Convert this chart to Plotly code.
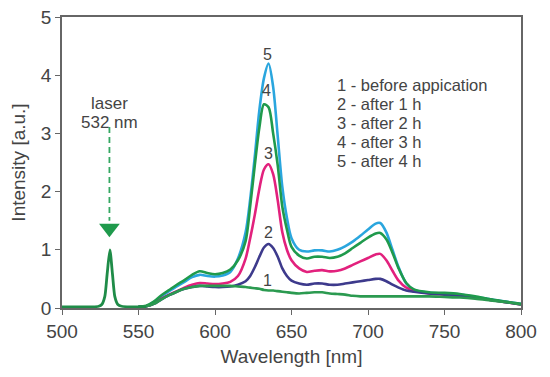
import plotly.graph_objects as go

# ---- data ----
laser_wl = [500, 510, 520, 524, 526, 528, 529.5, 531.3, 533, 534.5, 536.5, 539, 545, 555]
laser_int = [0.02, 0.02, 0.02, 0.03, 0.06, 0.2, 0.58, 1.0, 0.58, 0.2, 0.06, 0.03, 0.02, 0.02]

wl = [550, 555, 560, 565, 570, 575, 580, 585, 590, 595, 600, 605, 610, 615,
      620, 623, 626, 629, 632, 635, 638, 641, 644, 647,
      650, 655, 660, 665, 670, 675, 680, 685, 690, 695, 700, 705,
      708, 712, 716, 720, 725, 730,
      740, 750, 760, 770, 780, 790, 800]

c1 = [0.02, 0.03, 0.07, 0.15, 0.22, 0.28, 0.33, 0.36, 0.38, 0.38, 0.38, 0.38, 0.38, 0.37,
      0.36, 0.35, 0.34, 0.33, 0.31, 0.30, 0.30, 0.29, 0.28, 0.27,
      0.26, 0.25, 0.26, 0.27, 0.27, 0.25, 0.24, 0.23, 0.21, 0.20, 0.20, 0.20,
      0.20, 0.20, 0.20, 0.20, 0.20, 0.20,
      0.20, 0.19, 0.18, 0.16, 0.13, 0.10, 0.06]
c2 = [0.02, 0.03, 0.07, 0.15, 0.22, 0.28, 0.33, 0.36, 0.38, 0.37, 0.36, 0.36, 0.37, 0.40,
      0.46, 0.55, 0.70, 0.88, 1.04, 1.10, 1.03, 0.88, 0.68, 0.55,
      0.47, 0.42, 0.40, 0.42, 0.42, 0.40, 0.40, 0.42, 0.44, 0.46, 0.48, 0.50,
      0.50, 0.46, 0.40, 0.35, 0.30, 0.28,
      0.25, 0.23, 0.21, 0.18, 0.14, 0.10, 0.06]
c3 = [0.02, 0.03, 0.08, 0.16, 0.23, 0.29, 0.35, 0.40, 0.43, 0.42, 0.41, 0.42, 0.45, 0.55,
      0.85, 1.20, 1.60, 2.05, 2.38, 2.47, 2.30, 1.85, 1.30, 1.00,
      0.82, 0.68, 0.62, 0.64, 0.65, 0.63, 0.64, 0.68, 0.74, 0.80, 0.86, 0.92,
      0.93, 0.82, 0.64, 0.47, 0.35, 0.30,
      0.25, 0.23, 0.21, 0.18, 0.14, 0.10, 0.06]
c4 = [0.02, 0.04, 0.11, 0.22, 0.31, 0.40, 0.48, 0.57, 0.63, 0.60, 0.58, 0.60, 0.66, 0.82,
      1.15, 1.75, 2.45, 3.10, 3.50, 3.45, 3.00, 2.45, 1.74, 1.35,
      1.05, 0.90, 0.85, 0.88, 0.88, 0.86, 0.88, 0.94, 1.03, 1.12, 1.21, 1.28,
      1.29, 1.18, 0.95, 0.68, 0.43, 0.32,
      0.27, 0.26, 0.24, 0.20, 0.15, 0.11, 0.07]
c5 = [0.02, 0.03, 0.10, 0.20, 0.29, 0.37, 0.45, 0.53, 0.57, 0.55, 0.54, 0.56, 0.62, 0.85,
      1.30, 1.87, 2.60, 3.40, 3.95, 4.20, 3.80, 2.95, 2.08, 1.55,
      1.20, 1.00, 0.97, 0.99, 0.99, 0.97, 1.00, 1.06, 1.14, 1.24, 1.35, 1.45,
      1.46, 1.30, 1.00, 0.70, 0.42, 0.31,
      0.26, 0.25, 0.23, 0.19, 0.15, 0.11, 0.07]

legend_lines = ["1 - before appication", "2 - after 1 h", "3 - after 2 h",
                "4 - after 3 h", "5 - after 4 h"]
x_ticks = [500, 550, 600, 650, 700, 750, 800]
y_ticks = [0, 1, 2, 3, 4, 5]

FONT = "Liberation Sans, Arial, sans-serif"
TXT = "#444444"

fig = go.Figure()

series = [
    (c5, "#2aa6de", "5"),
    (c3, "#e2217d", "3"),
    (c2, "#3d3a8c", "2"),
    (c4, "#1f9a4c", "4"),
    (c1, "#2b9a50", "1"),
]
for ys, col, name in series:
    fig.add_trace(go.Scatter(x=wl, y=ys, mode="lines", name=name,
                             line=dict(color=col, width=2.6, shape="spline", smoothing=0.8),
                             hoverinfo="skip"))

fig.add_trace(go.Scatter(x=laser_wl, y=laser_int, mode="lines",
                         line=dict(color="#1f8c48", width=2.8, shape="spline", smoothing=0.6),
                         hoverinfo="skip"))

# laser arrow (dashed shaft + triangular head)
fig.add_trace(go.Scatter(x=[531, 531], y=[3.11, 1.5], mode="lines",
                         line=dict(color="#35a862", width=1.8, dash="6px,4px"),
                         hoverinfo="skip"))
fig.add_trace(go.Scatter(x=[531], y=[1.37], mode="markers",
                         marker=dict(symbol="triangle-down", size=18, color="#1f9a4c",
                                     line=dict(width=0)),
                         hoverinfo="skip"))

ann = []
ann.append(dict(x=531, y=3.52, text="laser", showarrow=False, xanchor="center",
                yanchor="middle", font=dict(size=17, color=TXT, family=FONT)))
ann.append(dict(x=531, y=3.18, text="532 nm", showarrow=False, xanchor="center",
                yanchor="middle", font=dict(size=17, color=TXT, family=FONT)))

leg_y = [3.83, 3.51, 3.18, 2.85, 2.53]
for t, yy in zip(legend_lines, leg_y):
    ann.append(dict(x=678.5, y=yy, text=t, showarrow=False, xanchor="left",
                    yanchor="middle", font=dict(size=16.5, color=TXT, family=FONT)))

num_pos = [("5", 634.5, 4.35), ("4", 633.8, 3.73), ("3", 635, 2.66),
           ("2", 635, 1.29), ("1", 634.5, 0.48)]
for t, xx, yy in num_pos:
    ann.append(dict(x=xx, y=yy, text=t, showarrow=False, xanchor="center",
                    yanchor="middle", font=dict(size=16, color=TXT, family=FONT)))

fig.update_layout(
    width=550, height=377,
    margin=dict(l=62, r=29, t=17, b=69),
    paper_bgcolor="white", plot_bgcolor="white",
    showlegend=False,
    annotations=ann,
    font=dict(family=FONT, color=TXT),
    xaxis=dict(range=[500, 800], tickvals=x_ticks, ticks="outside", ticklen=5,
               tickcolor="#666", showgrid=False, zeroline=False, automargin=False,
               showline=True, linecolor="#666", linewidth=1.5, mirror=True,
               tickfont=dict(size=19, color=TXT, family=FONT),
               title=dict(text="Wavelength [nm]", font=dict(size=19, color=TXT, family=FONT),
                          standoff=9)),
    yaxis=dict(range=[0, 5], tickvals=y_ticks, ticks="outside", ticklen=5,
               tickcolor="#666", showgrid=False, zeroline=False, automargin=False,
               showline=True, linecolor="#666", linewidth=1.5, mirror=True,
               tickfont=dict(size=19, color=TXT, family=FONT),
               title=dict(text="Intensity [a.u.]", font=dict(size=19, color=TXT, family=FONT),
                          standoff=10)),
)

# remove the default 8px page margin so the figure fills the window exactly
fig.write_html("out.html", config={"displayModeBar": False},
               post_script="document.body.style.margin='0';document.body.style.overflow='hidden';")
